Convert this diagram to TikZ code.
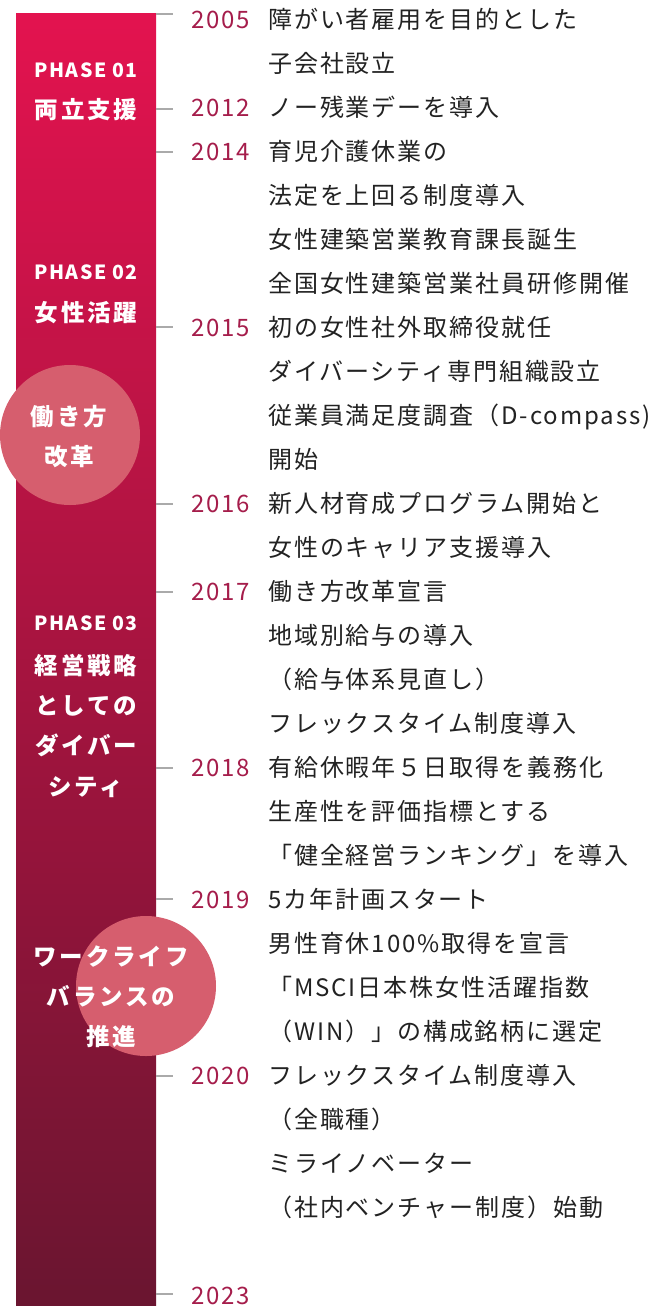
\documentclass[tikz,border=0pt]{standalone}
\usepackage{fontspec}
\newfontfamily\jpbody[LetterSpace=8]{Noto Sans CJK JP}
\newfontfamily\jpyear[LetterSpace=7]{Noto Sans CJK JP}
\newfontfamily\jphead[LetterSpace=12]{Noto Sans CJK JP}
\newfontfamily\jpphase[LetterSpace=8]{Noto Sans CJK JP}
\definecolor{bartop}{HTML}{E3134F}
\definecolor{barbot}{HTML}{6A1530}
\definecolor{circc}{HTML}{D65E6E}
\definecolor{yearc}{HTML}{A51D4B}
\definecolor{bodyc}{HTML}{222222}
\definecolor{tickc}{HTML}{AAAAAA}
\begin{document}
\begin{tikzpicture}[x=1pt,y=-1pt,
  body/.style={anchor=base west, inner sep=0pt, text=bodyc, font=\jpbody\fontsize{24}{28}\selectfont},
  yearlbl/.style={anchor=base west, inner sep=0pt, text=yearc, font=\jpyear\fontsize{24}{28}\selectfont},
  ticklink/.style={draw=tickc, line width=2pt},
  phaselbl/.style={anchor=base, inner sep=0pt, text=white, font=\jpphase\bfseries\fontsize{19.5}{23}\selectfont},
  headlbl/.style={anchor=base, inner sep=0pt, text=white, font=\jphead\bfseries\fontsize{23.5}{27}\selectfont},
  bubble/.style={circle, fill=circc, minimum size=140pt, inner sep=0pt}
]
\useasboundingbox (0,0) rectangle (663,1312);
\shade[top color=bartop, bottom color=barbot] (16,13) rectangle (156,1305);

% ticks
\foreach \nm/\yy in {a/14, b/109, c/152, d/327, e/504, f/592, g/768, h/899, i/1076, j/1294}{
  \coordinate (ts\nm) at (156,\yy);
  \coordinate (te\nm) at (173,\yy);
  \draw[ticklink] (ts\nm) -- (te\nm);
}

% years
\node[yearlbl] (y2005) at (191,28.6) {2005};
\node[yearlbl] (y2012) at (191,116.6) {2012};
\node[yearlbl] (y2014) at (191,160.6) {2014};
\node[yearlbl] (y2015) at (191,336.6) {2015};
\node[yearlbl] (y2016) at (191,512.6) {2016};
\node[yearlbl] (y2017) at (191,600.6) {2017};
\node[yearlbl] (y2018) at (191,776.6) {2018};
\node[yearlbl] (y2019) at (191,908.6) {2019};
\node[yearlbl] (y2020) at (191,1084.6) {2020};
\node[yearlbl] (y2023) at (191,1304.6) {2023};

% body lines
\node[body] (l0) at (268,28.6) {障がい者雇用を目的とした};
\node[body] (l1) at (268,72.6) {子会社設立};
\node[body] (l2) at (268,116.6) {ノー残業デーを導入};
\node[body] (l3) at (268,160.6) {育児介護休業の};
\node[body] (l4) at (268,204.6) {法定を上回る制度導入};
\node[body] (l5) at (268,248.6) {女性建築営業教育課長誕生};
\node[body] (l6) at (268,292.6) {全国女性建築営業社員研修開催};
\node[body] (l7) at (268,336.6) {初の女性社外取締役就任};
\node[body] (l8) at (268,380.6) {ダイバーシティ専門組織設立};
\node[body] (l9) at (268,424.6) {従業員満足度調査（D-compass)};
\node[body] (l10) at (268,468.6) {開始};
\node[body] (l11) at (268,512.6) {新人材育成プログラム開始と};
\node[body] (l12) at (268,556.6) {女性のキャリア支援導入};
\node[body] (l13) at (268,600.6) {働き方改革宣言};
\node[body] (l14) at (268,644.6) {地域別給与の導入};
\node[body] (l15) at (268,688.6) {（給与体系見直し）};
\node[body] (l16) at (268,732.6) {フレックスタイム制度導入};
\node[body] (l17) at (268,776.6) {有給休暇年５日取得を義務化};
\node[body] (l18) at (268,820.6) {生産性を評価指標とする};
\node[body] (l19) at (268,864.6) {「健全経営ランキング」を導入};
\node[body] (l20) at (268,908.6) {5カ年計画スタート};
\node[body] (l21) at (268,952.6) {男性育休100\%取得を宣言};
\node[body] (l22) at (268,996.6) {「MSCI日本株女性活躍指数};
\node[body] (l23) at (268,1040.6) {（WIN）」の構成銘柄に選定};
\node[body] (l24) at (268,1084.6) {フレックスタイム制度導入};
\node[body] (l25) at (268,1128.6) {（全職種）};
\node[body] (l26) at (268,1172.6) {ミライノベーター};
\node[body] (l27) at (268,1216.6) {（社内ベンチャー制度）始動};

% phase labels
\node[phaselbl] (p1) at (86,77.2) {PHASE 01};
\node[headlbl] (p1h) at (86,118.9) {両立支援};
\node[phaselbl] (p2) at (86,279.7) {PHASE 02};
\node[headlbl] (p2h) at (86,321.9) {女性活躍};
\node[phaselbl] (p3) at (86,630.2) {PHASE 03};
\node[headlbl] (p3a) at (86,674.9) {経営戦略};
\node[headlbl] (p3b) at (86,714.9) {としての};
\node[headlbl] (p3c) at (86,754.9) {ダイバー};
\node[headlbl] (p3d) at (86,795.9) {シティ};

% circles
\node[bubble] (c1) at (70,435) {};
\node[headlbl] (c1a) at (69,425.9) {働き方};
\node[headlbl] (c1b) at (69,465.9) {改革};
\node[bubble] (c2) at (146,986) {};
\node[headlbl] (c2a) at (111,965.9) {ワークライフ};
\node[headlbl] (c2b) at (111,1005.9) {バランスの};
\node[headlbl] (c2c) at (111,1045.9) {推進};
\end{tikzpicture}
\end{document}
